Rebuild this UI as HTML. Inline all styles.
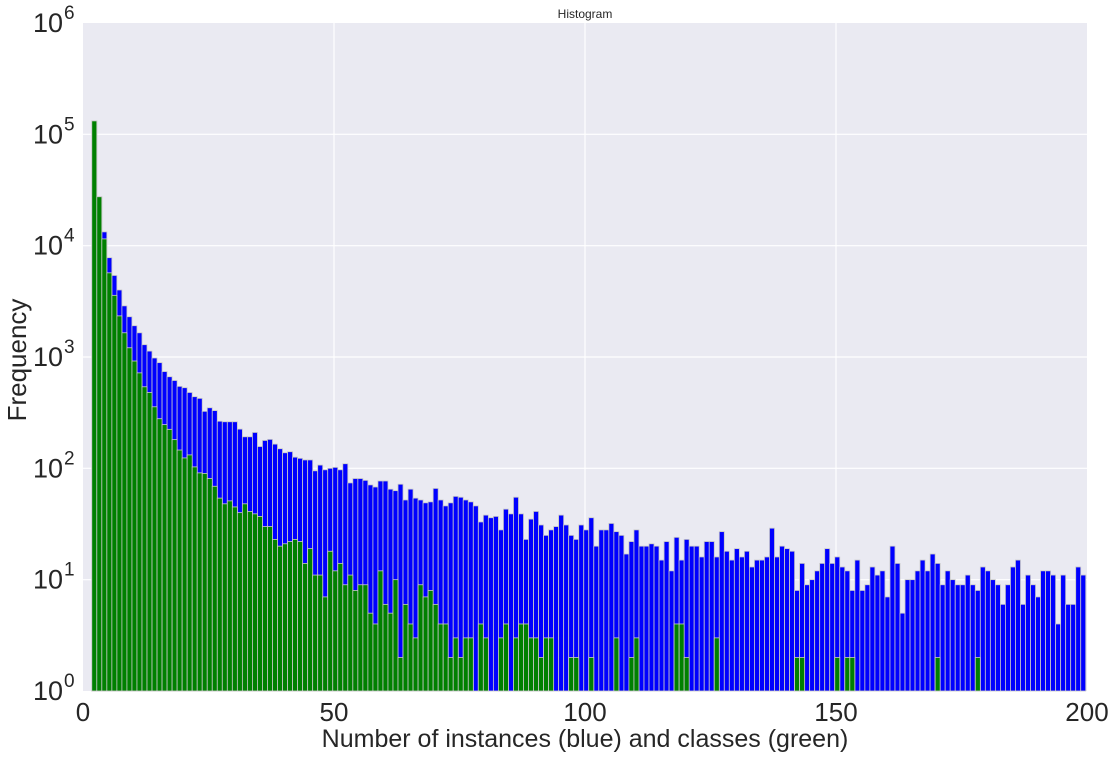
<!DOCTYPE html>
<html><head><meta charset="utf-8"><style>
html,body{margin:0;padding:0;background:#fff;}
svg text{font-family:"Liberation Sans",sans-serif;fill:#262626;}
</style></head><body>
<svg id="chart" width="1113" height="759" xmlns="http://www.w3.org/2000/svg">
<rect x="83" y="23" width="1004" height="668" fill="#EAEAF2"/>
<g id="grid"></g>
<g id="blue"></g>
<g id="green"></g>
<g id="xt"></g>
<g id="yt"></g>
<text x="585" y="18" font-size="12" text-anchor="middle">Histogram</text>
<text x="585" y="747" font-size="25" text-anchor="middle">Number of instances (blue) and classes (green)</text>
<text x="26" y="360" font-size="26" text-anchor="middle" transform="rotate(-90 26 360)">Frequency</text>
</svg>
<script>
const startBin = 2;
const blueValues = [132000,27500,13300,7800,5400,4000,2880,2300,1910,1650,1290,1130,980,890,740,665,615,545,530,480,440,425,325,350,330,265,262,262,262,225,192,192,210,157,178,182,165,150,
138,141,126,123,119,119,95,107,97,100,102,97,110,74,81,81,78,71,68,77,77,65,63,72,52,65,54,52,49,50,66,52,46,49,56,55,52,50,46,33,38,36,37,28,43,39,55,39,23,35,41,31,25,28,
30,38,31,25,23,31,28,36,20,28,28,32,27,25,17,22,28,20,20,21,20,15,22,12,24,15,23,20,20,16,22,22,16,27,18,15,19,16,18,13,15,15,16,29,16,20,19,18,8,14,9,10,
12,14,19,14,16,13,12,8,15,8,9,13,11,12,7,20,14,5,10,10,12,15,12,17,14,9,12,10,9,9,11,9,8,13,12,10,9,6,9,13,15,6,11,9,7,12,12,11,4,11,6,6,13,11];
const greenValues = [132000,27500,11500,5700,3580,2340,1650,1210,920,720,540,480,357,279,247,224,181,146,124,132,103,91,90,81,69,54,48,51,45,40,48,41,39,37,30,30,23,20,
21,22,23,22,14,19,11,11,7,18,12,14,9,11,8,9,9,5,4,12,6,5,10,2,6,4,3,9,7,8,6,4,4,2,3,2,3,3,0,4,3,0,0,3,4,0,3,4,4,3,3,2,3,3,
0,0,0,2,2,0,0,2,0,0,0,0,3,0,0,2,3,0,0,0,0,0,0,0,4,4,2,0,0,0,0,0,3,0,0,0,0,0,0,0,0,0,0,0,0,0,0,0,2,2,0,0,
0,0,0,0,2,0,2,2,0,0,0,0,0,0,0,0,0,0,0,0,0,0,0,0,2,0,0,0,0,0,0,0,2,0,0,0,0,0,0,0,0,0,0,0,0,0,0,0,0,0,0,0];
const xTicks = [0,50,100,150,200];
const yTickExps = [0,1,2,3,4,5,6];

const NS="http://www.w3.org/2000/svg";
const X0=83,X1=1087,Y0=691,Y1=23;
function xs(v){return X0+(v/200)*(X1-X0);}
function ys(v){return Y0-(Math.log10(Math.max(v,1))/6)*(Y0-Y1);}
function mk(tag,attrs,parent){const e=document.createElementNS(NS,tag);for(const k in attrs)e.setAttribute(k,attrs[k]);parent.appendChild(e);return e;}
const grid=document.getElementById('grid');
xTicks.forEach(t=>{if(t>0&&t<200){const l=mk('line',{x1:xs(t),x2:xs(t),y1:Y1,y2:Y0,stroke:'#fff','stroke-width':1.2},grid);

}});
yTickExps.forEach(e=>{if(e>0&&e<6){const l=mk('line',{x1:X0,x2:X1,y1:ys(Math.pow(10,e)),y2:ys(Math.pow(10,e)),stroke:'#fff','stroke-width':1.2},grid);

}});
function bars(vals,gid,color,name){const g=document.getElementById(gid);
vals.forEach((v,i)=>{if(v<=1)return;const b=startBin+i;const x=xs(b-0.25),w=xs(b+1)-xs(b),y=ys(v);
const r=mk('rect',{x:x,y:y,width:w,height:Y0-y,fill:color,stroke:'#c8c8c8','stroke-width':0.8},g);

});}
bars(blueValues,'blue','#0000ff','instances-bar');
bars(greenValues,'green','#008000','classes-bar');
const xt=document.getElementById('xt');
xTicks.forEach(t=>{const e=mk('text',{x:xs(t),y:721,'font-size':26,'text-anchor':'middle'},xt);e.textContent=t;

});
const yt=document.getElementById('yt');
yTickExps.forEach(p=>{const y=ys(Math.pow(10,p));const e=mk('text',{x:63,y:y+9,'font-size':27,'text-anchor':'end'},yt);e.textContent='10';


const s=mk('text',{x:64,y:y-4,'font-size':19,'text-anchor':'start'},yt);s.textContent=p;

});
</script>
</body></html>
